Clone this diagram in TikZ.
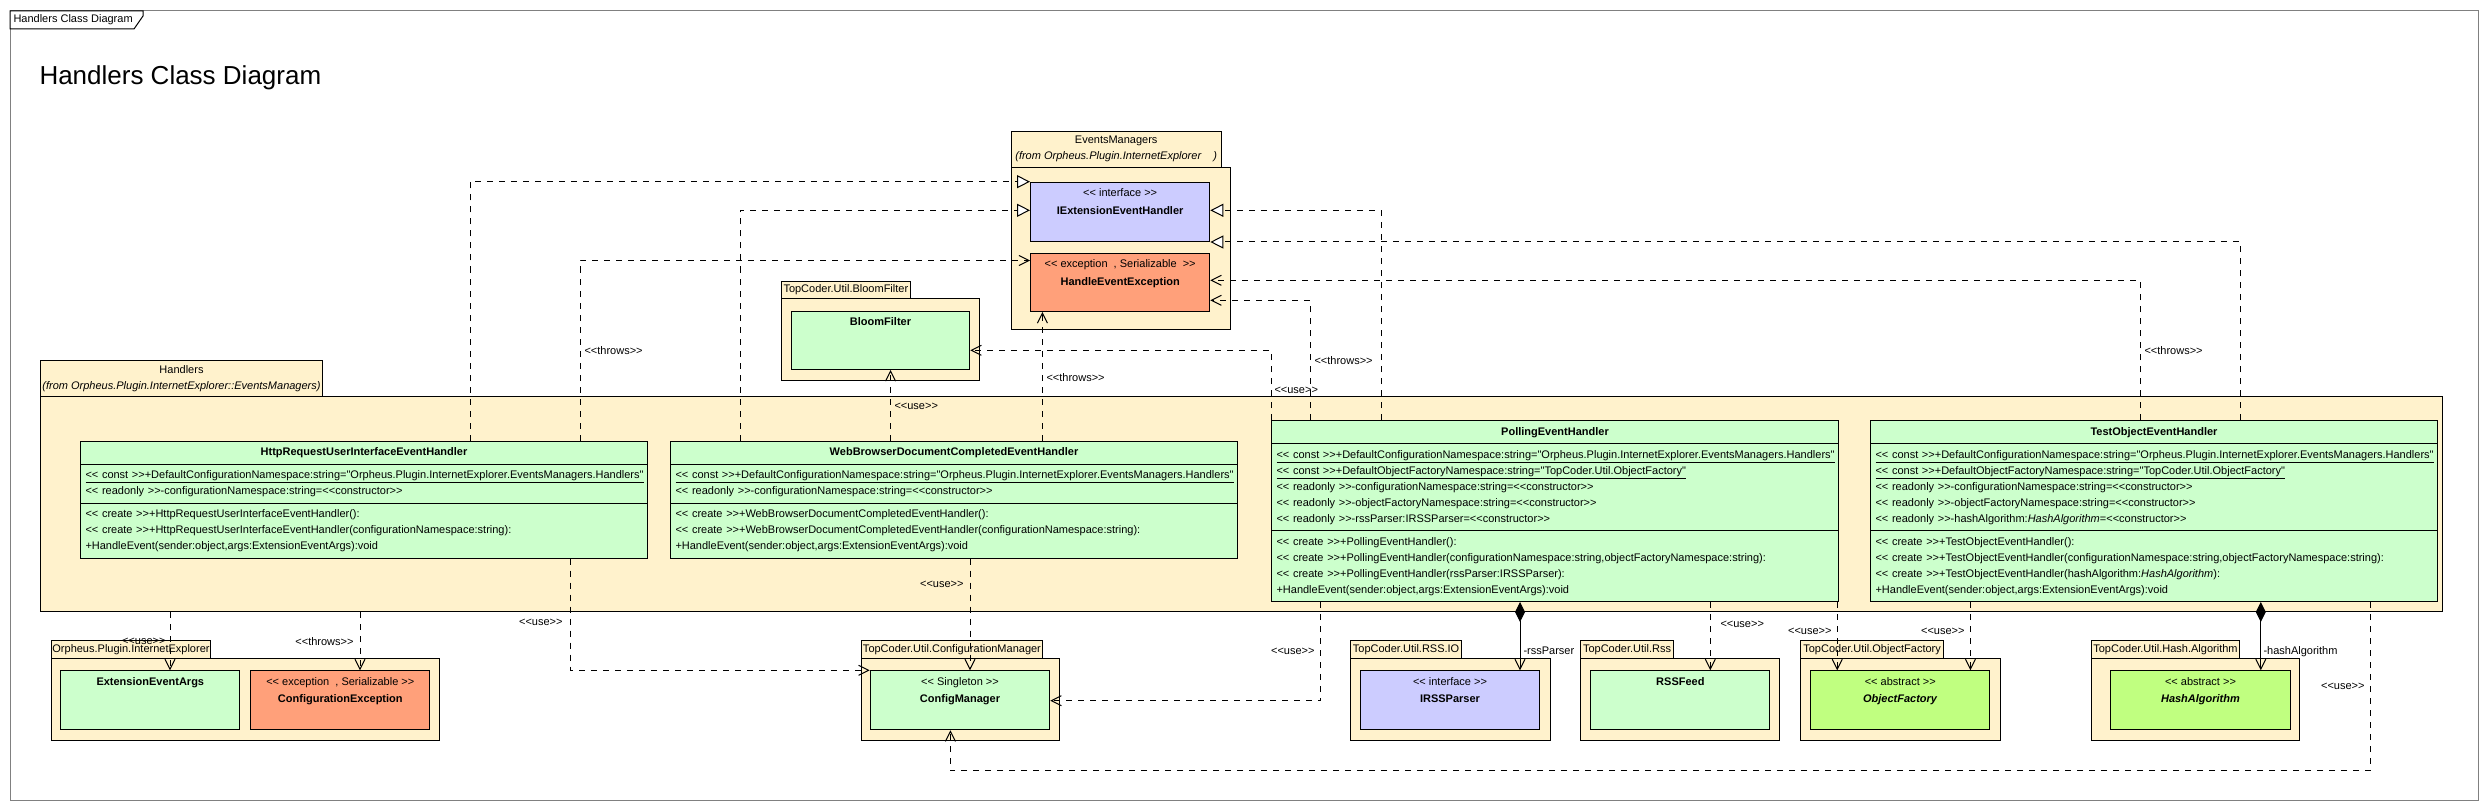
\documentclass[tikz,border=0pt]{standalone}
\usepackage{fontspec}
\setmainfont{Liberation Sans}[Ligatures=TeXOff]
\usetikzlibrary{arrows.meta,shapes.multipart}
\definecolor{pkgc}{RGB}{255,242,204}
\definecolor{clsg}{RGB}{204,255,204}
\definecolor{ifc}{RGB}{204,204,255}
\definecolor{exc}{RGB}{255,160,122}
\definecolor{absg}{RGB}{192,255,128}
\newcommand{\R}[1]{\mbox{\strut#1}}
\newcommand{\pkgbox}[8]{%
  \node[pkgtab, minimum width={(#4-#2)*1pt}, minimum height={(#5-#3)*1pt}] (#1-tab) at (#2,#3) {#8};
  \node[pkgbody, minimum width={(#6-#2)*1pt}, minimum height={(#7-#5)*1pt}] (#1) at (#2,#5) {};
}
\newcommand{\ubox}[7]{%
  \node[ubx, fill=#6, minimum width={(#4-#2)*1pt}, minimum height={(#5-#3)*1pt}] (#1) at (#2,#3) {};
  \node[ubt] (#1-t) at ([yshift=-2.25pt]#1.north) {#7};
}
\newcommand{\cls}[6]{%
  \node[clsbox] (#1) at (#2,#3) {\makebox[557pt][c]{\strut\textbf{#4}}\nodepart{two}#5\nodepart{three}#6};
}
\begin{document}
\begin{tikzpicture}[x=1pt,y=-1pt,line width=1pt,
  pkgtab/.style={draw, fill=pkgc, anchor=north west, inner sep=0pt, align=center, font=\fontsize{11}{16}\selectfont},
  pkgbody/.style={draw, fill=pkgc, anchor=north west, inner sep=0pt},
  ubx/.style={draw, anchor=north west, inner sep=0pt},
  ubt/.style={anchor=north, inner sep=0pt, align=center, font=\fontsize{11}{17.5}\selectfont},
  clsbox/.style={draw, fill=clsg, rectangle split, rectangle split parts=3, anchor=north west,
    text width=557pt, inner xsep=5pt, inner ysep=3pt, align=left, font=\fontsize{11}{16}\selectfont},
  lbl/.style={inner sep=0pt, font=\fontsize{11}{13}\selectfont},
  dep/.style={draw, dash pattern=on 6pt off 6pt, -{Straight Barb[length=10pt,width=10pt]}},
  real/.style={draw, dash pattern=on 6pt off 6pt, -{Triangle[open,length=13pt,width=13pt,fill=white]}},
  comp/.style={draw, {Diamond[length=20pt,width=10pt]}-{Straight Barb[length=10pt,width=10pt]}}
]
\fill[white] (0,0) rectangle (2488,810);
\useasboundingbox (0,0) rectangle (2488,810);
% frame
\draw[gray] (10,11) rectangle (2478,800);
\draw[fill=white] (10,11) -- (143,11) -- (143,16) -- (134,29) -- (10,29) -- cycle;
\node[anchor=west, inner sep=0pt, font=\fontsize{11}{13}\selectfont] (ftab) at (13,20) {Handlers Class Diagram};
\node[anchor=west, inner sep=0pt, font=\fontsize{26}{30}\selectfont] (title) at (39,78) {Handlers Class Diagram};

% packages
\pkgbox{em}{1010.7}{130.7}{1220.7}{166.7}{1230}{329}{EventsManagers\\\textit{(from Orpheus.Plugin.InternetExplorer\ \ \ \ )}}
\pkgbox{bfp}{780.7}{281}{910}{298.3}{979.3}{380}{TopCoder.Util.BloomFilter}
\pkgbox{hp}{40}{360}{322}{396}{2442}{611}{Handlers\\\textit{(from Orpheus.Plugin.InternetExplorer::EventsManagers)}}
\pkgbox{oip}{50.7}{640.3}{210.3}{658.3}{439.3}{740.3}{Orpheus.Plugin.InternetExplorer}
\pkgbox{cmp}{860.6}{640.3}{1042.3}{658.3}{1059}{740.3}{TopCoder.Util.ConfigurationManager}
\pkgbox{riop}{1350.2}{640.3}{1461}{658.3}{1549.5}{740.3}{TopCoder.Util.RSS.IO}
\pkgbox{rssp}{1580}{640.3}{1673}{658.3}{1779.2}{740.3}{TopCoder.Util.Rss}
\pkgbox{ofp}{1800.4}{640.3}{1942.8}{658.3}{1999.6}{740.3}{TopCoder.Util.ObjectFactory}
\pkgbox{hap}{2090.9}{640.3}{2239}{658.3}{2299.3}{740.3}{TopCoder.Util.Hash.Algorithm}

% simple boxes
\ubox{iext}{1030}{181.7}{1209.3}{241}{ifc}{\strut<< interface >>\\\strut\textbf{IExtensionEventHandler}}
\ubox{hee}{1030}{252.7}{1209.3}{311}{exc}{\strut<< exception\ \ , Serializable\ \ >>\\\strut\textbf{HandleEventException}}
\ubox{bf}{790.7}{310.7}{969.3}{369}{clsg}{\strut\textbf{BloomFilter}}
\ubox{eea}{60.3}{670.3}{239.3}{729.3}{clsg}{\strut\textbf{ExtensionEventArgs}}
\ubox{cex}{250.3}{670.3}{429.3}{729.3}{exc}{\strut<< exception\ \ , Serializable >>\\\strut\textbf{ConfigurationException}}
\ubox{cm}{869.7}{670.3}{1049.3}{729.3}{clsg}{\strut<< Singleton >>\\\strut\textbf{ConfigManager}}
\ubox{irss}{1360}{670.3}{1539}{729.3}{ifc}{\strut<< interface >>\\\strut\textbf{IRSSParser}}
\ubox{rss}{1590.3}{670.3}{1769.4}{729.3}{clsg}{\strut\textbf{RSSFeed}}
\ubox{of}{1810.2}{670.3}{1989.3}{729.3}{absg}{\strut<< abstract >>\\\strut\textbf{\textit{ObjectFactory}}}
\ubox{ha}{2110.4}{670.3}{2289.5}{729.3}{absg}{\strut<< abstract >>\\\strut\textbf{\textit{HashAlgorithm}}}

% classes
\cls{http}{80}{440.5}{HttpRequestUserInterfaceEventHandler}{%
\R{\underline{<< const >>+DefaultConfigurationNamespace:string="Orpheus.Plugin.InternetExplorer.EventsManagers.Handlers"}}\\
\R{<< readonly >>-configurationNamespace:string=<<constructor>>}}{%
\R{<< create >>+HttpRequestUserInterfaceEventHandler():}\\
\R{<< create >>+HttpRequestUserInterfaceEventHandler(configurationNamespace:string):}\\
\R{+HandleEvent(sender:object,args:ExtensionEventArgs):void}}
\cls{web}{670}{440.5}{WebBrowserDocumentCompletedEventHandler}{%
\R{\underline{<< const >>+DefaultConfigurationNamespace:string="Orpheus.Plugin.InternetExplorer.EventsManagers.Handlers"}}\\
\R{<< readonly >>-configurationNamespace:string=<<constructor>>}}{%
\R{<< create >>+WebBrowserDocumentCompletedEventHandler():}\\
\R{<< create >>+WebBrowserDocumentCompletedEventHandler(configurationNamespace:string):}\\
\R{+HandleEvent(sender:object,args:ExtensionEventArgs):void}}
\cls{poll}{1271}{420}{PollingEventHandler}{%
\R{\underline{<< const >>+DefaultConfigurationNamespace:string="Orpheus.Plugin.InternetExplorer.EventsManagers.Handlers"}}\\
\R{\underline{<< const >>+DefaultObjectFactoryNamespace:string="TopCoder.Util.ObjectFactory"}}\\
\R{<< readonly >>-configurationNamespace:string=<<constructor>>}\\
\R{<< readonly >>-objectFactoryNamespace:string=<<constructor>>}\\
\R{<< readonly >>-rssParser:IRSSParser=<<constructor>>}}{%
\R{<< create >>+PollingEventHandler():}\\
\R{<< create >>+PollingEventHandler(configurationNamespace:string,objectFactoryNamespace:string):}\\
\R{<< create >>+PollingEventHandler(rssParser:IRSSParser):}\\
\R{+HandleEvent(sender:object,args:ExtensionEventArgs):void}}
\cls{test}{1870}{420}{TestObjectEventHandler}{%
\R{\underline{<< const >>+DefaultConfigurationNamespace:string="Orpheus.Plugin.InternetExplorer.EventsManagers.Handlers"}}\\
\R{\underline{<< const >>+DefaultObjectFactoryNamespace:string="TopCoder.Util.ObjectFactory"}}\\
\R{<< readonly >>-configurationNamespace:string=<<constructor>>}\\
\R{<< readonly >>-objectFactoryNamespace:string=<<constructor>>}\\
\R{<< readonly >>-hashAlgorithm:\textit{HashAlgorithm}=<<constructor>>}}{%
\R{<< create >>+TestObjectEventHandler():}\\
\R{<< create >>+TestObjectEventHandler(configurationNamespace:string,objectFactoryNamespace:string):}\\
\R{<< create >>+TestObjectEventHandler(hashAlgorithm:\textit{HashAlgorithm}):}\\
\R{+HandleEvent(sender:object,args:ExtensionEventArgs):void}}

% connectors (top)
\draw[real] (470,0 |- http.north) |- (iext.north west);
\draw[dep] (580.3,0 |- http.north) |- (hee.west |- 0,260.5);
\draw[real] (740.6,0 |- web.north) |- (iext.west |- 0,210.3);
\draw[dep] (890.6,0 |- web.north) -- (890.6,0 |- bf.south);
\draw[dep] (1042.4,0 |- web.north) -- (1042.4,0 |- hee.south);
\draw[real] (1381,0 |- poll.north) |- (iext.east |- 0,210.3);
\draw[dep] (1310,0 |- poll.north) |- (hee.east |- 0,300.3);
\draw[dep] (poll.north west) |- (bf.east |- 0,350.3);
\draw[real] (2240.6,0 |- test.north) |- (iext.south east);
\draw[dep] (2140,0 |- test.north) |- (hee.east |- 0,280.3);
% connectors (bottom)
\draw[dep] (170,0 |- hp.south) -- (170,0 |- eea.north);
\draw[dep] (360,0 |- hp.south) -- (360,0 |- cex.north);
\draw[dep] (570.8,0 |- http.south) |- (cm.north west);
\draw[dep] (970,0 |- web.south) -- (970,0 |- cm.north);
\draw[dep] (1320.8,0 |- poll.south) |- (cm.east |- 0,700.7);
\coordinate (tcbend) at (950.4,770.7);
\draw[dep] (2370.5,0 |- test.south) |- (tcbend) -- (tcbend |- cm.south);
\draw[comp] (1520,0 |- poll.south) -- (1520,0 |- irss.north);
\draw[dep] (1710.3,0 |- poll.south) -- (1710.3,0 |- rss.north);
\draw[dep] (1837.2,0 |- poll.south) -- (1837.2,0 |- of.north);
\draw[dep] (1970.4,0 |- test.south) -- (1970.4,0 |- of.north);
\draw[comp] (2260.8,0 |- test.south) -- (2260.8,0 |- ha.north);

% labels
\node[lbl, anchor=west] (l1) at (584,351) {<<throws>>};
\node[lbl, anchor=west] (l2) at (1046,377.7) {<<throws>>};
\node[lbl, anchor=west] (l3) at (894,406.7) {<<use>>};
\node[lbl, anchor=west] (l4) at (1274,390) {<<use>>};
\node[lbl, anchor=west] (l5) at (1314,361) {<<throws>>};
\node[lbl, anchor=west] (l6) at (2144,351) {<<throws>>};
\node[lbl, anchor=east] (l7) at (166,641.7) {<<use>>};
\node[lbl, anchor=east] (l8) at (354,641.7) {<<throws>>};
\node[lbl, anchor=east] (l9) at (563,622.3) {<<use>>};
\node[lbl, anchor=east] (l10) at (964,584.3) {<<use>>};
\node[lbl, anchor=east] (l11) at (1315,651.7) {<<use>>};
\node[lbl, anchor=west] (l12) at (1523,651) {-rssParser};
\node[lbl, anchor=west] (l13) at (1720,624.3) {<<use>>};
\node[lbl, anchor=east] (l14) at (1832,631.7) {<<use>>};
\node[lbl, anchor=east] (l15) at (1965,631.7) {<<use>>};
\node[lbl, anchor=west] (l16) at (2263,651.7) {-hashAlgorithm};
\node[lbl, anchor=east] (l17) at (2365,686.7) {<<use>>};
\end{tikzpicture}
\end{document}
